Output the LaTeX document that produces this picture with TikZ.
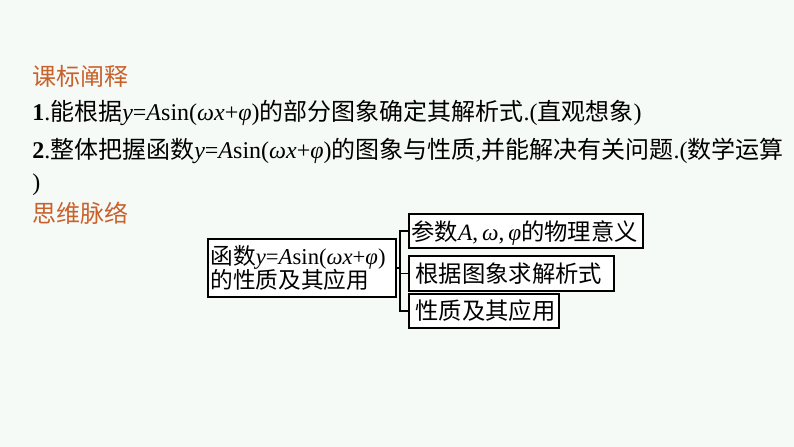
\documentclass[tikz,border=0pt]{standalone}
\usepackage{fontspec}
\setmainfont{Liberation Serif}
\newfontfamily\cjk{Noto Sans CJK SC}
\definecolor{bg}{HTML}{F6FAF7}
\definecolor{hd}{HTML}{C8612B}
\begin{document}
\begin{tikzpicture}[x=0.75pt,y=-0.75pt,
  txt/.style={anchor=west,inner sep=0,font=\fontsize{18}{21}\selectfont},
  head/.style={txt,text=hd},
  box/.style={draw,line width=1.3pt,inner xsep=2pt,inner ysep=0pt,anchor=north west,font=\fontsize{17.5}{18}\selectfont,align=left,fill=white},
  ln/.style={line width=1.3pt}]
\fill[bg] (0,0) rectangle (794,447);
\useasboundingbox (0,0) rectangle (794,447);
\node[head] (h1) at (32,76) {\cjk 课标阐释};
\node[txt] (l1) at (32,113) {\textbf{1}.{\cjk 能根据}\textit{y}=\textit{A}sin(\textit{ωx}+\textit{φ}){\cjk 的部分图象确定其解析式}.({\cjk 直观想象})};
\node[txt] (l2) at (32,151) {\textbf{2}.{\cjk 整体把握函数}\textit{y}=\textit{A}sin(\textit{ωx}+\textit{φ}){\cjk 的图象与性质},{\cjk 并能解决有关问题}.({\cjk 数学运算}};
\node[txt] (l3) at (32,185) {)};
\node[head] (h2) at (32,213) {\cjk 思维脉络};
\node[box,text width=183*0.75pt,minimum height=58*0.75pt,font=\fontsize{17}{18}\selectfont] (m) at (207,238) {{\cjk 函数}\textit{y}=\textit{A}sin(\textit{ωx}+\textit{φ})\\[-1pt]{\cjk 的性质及其应用}};
\node[box,text width=229*0.75pt,minimum height=34*0.75pt] (b1) at (408,213) {\hspace{3pt}{\cjk 参数}\textit{A},\,\textit{ω},\,\textit{φ}{\cjk 的物理意义}};
\node[box,text width=200*0.75pt,minimum height=35*0.75pt] (b2) at (408,255) {\hspace{3pt}\cjk 根据图象求解析式};
\node[box,text width=145*0.75pt,minimum height=34*0.75pt] (b3) at (408,293) {\hspace{3pt}\cjk 性质及其应用};
\coordinate (j) at (400,267);
\draw[ln] (m.east) -- (m.east -| j);
\draw[ln] (b1.west) -| (j) |- (b3.west);
\draw[ln] (j |- b2.west) -- (b2.west);
\end{tikzpicture}
\end{document}
